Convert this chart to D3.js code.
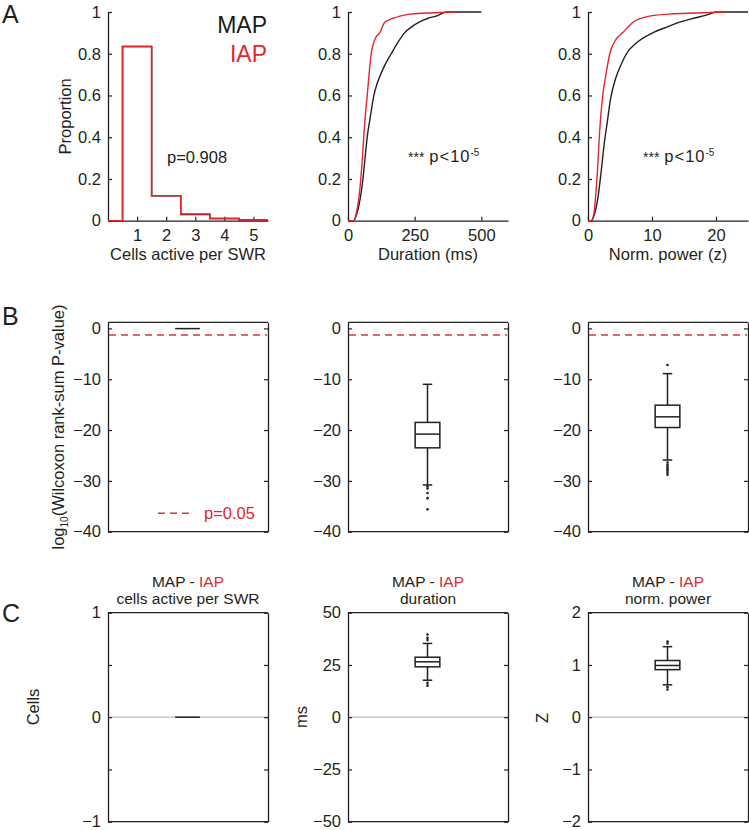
<!DOCTYPE html>
<html><head><meta charset="utf-8">
<script src="https://cdn.jsdelivr.net/npm/d3@7"></script>
<style>
body{margin:0;background:#fff}
text{font-family:"Liberation Sans",Arial,Helvetica,sans-serif;fill:#231f20}
</style>
</head><body><svg id="c" width="749" height="830"></svg>
<script>
// ---------------- data ----------------
const cellBins = [1, 2, 3, 4, 5];
const cellPropMAP = [0.835, 0.12, 0.03, 0.01, 0.003];
const cellPropIAP = [0.835, 0.12, 0.032, 0.011, 0.003];

const durMsMAP  = [0, 22, 32, 42, 50, 56, 64, 72, 84, 97, 110, 122, 140, 162, 185, 212, 240, 265, 300, 330, 369, 500];
const durCdfMAP = [0, 0, 0.03, 0.08, 0.14, 0.2, 0.3, 0.4, 0.5, 0.6, 0.66, 0.7, 0.75, 0.8, 0.85, 0.9, 0.93, 0.95, 0.97, 0.98, 1.0, 1.0];
const durMsIAP  = [0, 22, 30, 40, 48, 54, 60, 66, 72, 79, 87, 96, 105, 119, 137, 150, 169, 195, 231, 290, 350, 406];
const durCdfIAP = [0, 0, 0.03, 0.1, 0.2, 0.3, 0.42, 0.52, 0.6, 0.7, 0.8, 0.85, 0.88, 0.9, 0.95, 0.96, 0.97, 0.98, 0.99, 0.995, 0.998, 1.0];

const powZMAP   = [0, 0.5, 1.0, 1.5, 2.0, 2.5, 3.0, 3.5, 4.3, 5.2, 6.0, 7.5, 10.1, 12.5, 14.2, 16.5, 18.5, 20, 25];
const powCdfMAP = [0, 0, 0.03, 0.1, 0.22, 0.36, 0.47, 0.58, 0.68, 0.75, 0.8, 0.85, 0.9, 0.93, 0.95, 0.97, 0.985, 1, 1];
const powZIAP   = [0, 0.5, 0.9, 1.2, 1.5, 1.8, 2.3, 2.8, 3.4, 4.4, 5.4, 7.0, 9.6, 12.7, 17, 21.5];
const powCdfIAP = [0, 0, 0.03, 0.12, 0.25, 0.42, 0.6, 0.7, 0.8, 0.87, 0.9, 0.95, 0.98, 0.99, 0.995, 1.0];

const xLabelsA = ["Cells active per SWR", "Duration (ms)", "Norm. power (z)"];
const xTicksA1 = [1, 2, 3, 4, 5];
const xTicksA2 = [0, 250, 500];
const xTicksA3 = [0, 10, 20];
const yTicksA  = [0, 0.2, 0.4, 0.6, 0.8, 1];

// box stats: [lower whisker, q1, median, q3, upper whisker]
const logPCells = [-0.15, -0.04, -0.04, -0.04, 0.06];
const logPCellsOut = [];
const logPDur = [-30.8, -23.5, -20.8, -18.5, -11];
const logPDurOut = [-31.1, -31.5, -32.4, -33.4, -35.6];
const logPPow = [-25.9, -19.5, -17.4, -15.1, -8.9];
const logPPowOut = [-7.2, -26.4, -26.9, -27.3, -27.7, -28.0, -28.4, -28.8];
const yTicksB = [0, -10, -20, -30, -40];
const pThresh = 0.05;

const diffCells = [0, 0, 0, 0, 0];
const diffCellsOut = [];
const diffDur = [17.7, 24.1, 26.5, 28.7, 35.3];
const diffDurOut = [36.9, 38.0, 39.6, 16.4, 15.1];
const diffPow = [0.62, 0.91, 0.99, 1.085, 1.35];
const diffPowOut = [1.41, 1.45, 0.58, 0.53];
const titlesC = ["cells active per SWR", "duration", "norm. power"];
const yLabelsC = ["Cells", "ms", "Z"];
const yTicksC1 = [-1, -0.5, 0, 0.5, 1];
const yTicksC2 = [-50, -25, 0, 25, 50];
const yTicksC3 = [-2, -1, 0, 1, 2];

// ---------------- drawing ----------------
const RED = "#e3262c", INK = "#231f20", FS = 16.5;
const svg = d3.select("#c");
const colX = [108, 348, 588], W = 160;

function panelLetter(t, y) {
  svg.append("text").attr("x", 2).attr("y", y).attr("font-size", 25).text(t);
}
panelLetter("A", 23); panelLetter("B", 325); panelLetter("C", 621.5);

function styleAxis(g) {
  g.selectAll("path.domain").attr("stroke", INK).attr("stroke-width", 1.3);
  g.selectAll(".tick line").attr("stroke", INK).attr("stroke-width", 1.2);
  g.selectAll(".tick text").attr("fill", INK).attr("font-size", FS)
    .attr("font-family", '"Liberation Sans",Arial,sans-serif');
}

// ---- Row A ----
const yA = d3.scaleLinear([0, 1], [220.7, 12]);
const xA = [
  d3.scaleLinear([0, 5.5], [colX[0], colX[0] + W]),
  d3.scaleLinear([0, 600], [colX[1], colX[1] + W]),
  d3.scaleLinear([0, 25], [colX[2], colX[2] + W])
];
const xTicksA = [xTicksA1, xTicksA2, xTicksA3];

xA.forEach((x, i) => {
  const gy = svg.append("g").attr("transform", `translate(${colX[i]},0)`)
    .call(d3.axisLeft(yA).tickValues(yTicksA).tickFormat(d3.format("~g"))
      .tickSizeInner(-4).tickSizeOuter(0).tickPadding(7));
  styleAxis(gy);
  const gx = svg.append("g").attr("transform", `translate(0,${yA(0)})`)
    .call(d3.axisBottom(x).tickValues(xTicksA[i]).tickFormat(d3.format("d"))
      .tickSizeInner(-4).tickSizeOuter(0).tickPadding(6));
  styleAxis(gx);
  gx.selectAll(".tick text").attr("dy", "0.85em");
  svg.append("text").attr("x", colX[i] + W / 2).attr("y", 260)
    .attr("text-anchor", "middle").attr("font-size", FS).text(xLabelsA[i]);
});

svg.append("text").attr("transform", `translate(71,${yA(0.5)}) rotate(-90)`)
  .attr("text-anchor", "middle").attr("font-size", FS).text("Proportion");

// histogram stairs
function histPoints(bins, vals) {
  const pts = [[0, 0]];
  bins.forEach((b, k) => pts.push([b - 0.5, vals[k]]));
  pts.push([bins[bins.length - 1] + 0.5, vals[vals.length - 1]]);
  return pts;
}
const stair = d3.line().x(d => xA[0](d[0])).y(d => yA(d[1])).curve(d3.curveStepAfter);
svg.append("path").attr("d", stair(histPoints(cellBins, cellPropMAP)))
  .attr("fill", "none").attr("stroke", INK).attr("stroke-width", 1.5);
svg.append("path").attr("d", stair(histPoints(cellBins, cellPropIAP)))
  .attr("fill", "none").attr("stroke", RED).attr("stroke-width", 1.5);

svg.append("text").attr("x", 267).attr("y", 33).attr("text-anchor", "end")
  .attr("font-size", 23).style("fill", "#1a1a1a").text("MAP");
svg.append("text").attr("x", 267).attr("y", 61.5).attr("text-anchor", "end")
  .attr("font-size", 23).style("fill", RED).text("IAP");
svg.append("text").attr("x", 167).attr("y", 163).attr("font-size", FS).text("p=0.908");

// CDF lines
function cdfLine(x, xs, ys, color) {
  const line = d3.line().x(d => x(d[0])).y(d => yA(d[1])).curve(d3.curveMonotoneX);
  svg.append("path").attr("d", line(xs.map((v, k) => [v, ys[k]])))
    .attr("fill", "none").attr("stroke", color).attr("stroke-width", 1.4)
    .attr("stroke-linejoin", "round");
}
cdfLine(xA[1], durMsMAP, durCdfMAP, INK);
cdfLine(xA[1], durMsIAP, durCdfIAP, RED);
cdfLine(xA[2], powZMAP, powCdfMAP, INK);
cdfLine(xA[2], powZIAP, powCdfIAP, RED);

function sigText(x, y) {
  const t = svg.append("text").attr("x", x).attr("y", y).attr("font-size", 16.5);
  t.append("tspan").attr("font-size", 14).text("***");
  t.append("tspan").attr("dx", 5).attr("letter-spacing", 1).text("p<10");
  t.append("tspan").attr("font-size", 10).attr("dy", -6).text("-5");
}
sigText(408, 162);
sigText(643, 162);

// ---- box-plot helper ----
function drawBox(y, cx, stats, outs, bw, cw) {
  const [lo, q1, md, q3, hi] = stats;
  const g = svg.append("g").attr("stroke", INK).attr("stroke-width", 1.5).attr("fill", "none");
  g.append("line").attr("x1", cx).attr("x2", cx).attr("y1", y(q3)).attr("y2", y(hi));
  g.append("line").attr("x1", cx).attr("x2", cx).attr("y1", y(q1)).attr("y2", y(lo));
  if (hi - lo > 1e-9 && Math.abs(y(hi) - y(lo)) > 4) {
    g.append("line").attr("x1", cx - cw / 2).attr("x2", cx + cw / 2).attr("y1", y(hi)).attr("y2", y(hi));
    g.append("line").attr("x1", cx - cw / 2).attr("x2", cx + cw / 2).attr("y1", y(lo)).attr("y2", y(lo));
  }
  if (y(q1) - y(q3) > 0.5) {
    g.append("rect").attr("x", cx - bw / 2).attr("width", bw)
      .attr("y", y(q3)).attr("height", y(q1) - y(q3));
  }
  g.append("line").attr("x1", cx - bw / 2).attr("x2", cx + bw / 2).attr("y1", y(md)).attr("y2", y(md));
  svg.append("g").selectAll("circle").data(outs).join("circle")
    .attr("cx", cx).attr("cy", d => y(d)).attr("r", 1.3).attr("fill", INK);
}

function boxAxes(y, x0, ticks, fmt) {
  const g1 = svg.append("g").attr("transform", `translate(${x0},0)`)
    .call(d3.axisLeft(y).tickValues(ticks).tickFormat(fmt)
      .tickSizeInner(-4).tickSizeOuter(0).tickPadding(7));
  styleAxis(g1);
  const g2 = svg.append("g").attr("transform", `translate(${x0 + W},0)`)
    .call(d3.axisRight(y).tickValues(ticks).tickFormat("")
      .tickSizeInner(-4).tickSizeOuter(0));
  styleAxis(g2);
  const [a, b] = y.range();
  svg.append("line").attr("x1", x0).attr("x2", x0 + W).attr("y1", b).attr("y2", b)
    .attr("stroke", INK).attr("stroke-width", 1.3);
  svg.append("line").attr("x1", x0).attr("x2", x0 + W).attr("y1", a).attr("y2", a)
    .attr("stroke", INK).attr("stroke-width", 1.3);
}

// ---- Row B ----
const yB = d3.scaleLinear([-40, 1.2], [531.7, 322.3]);
const fmtMinus = d3.format("d");
const boxB = [[logPCells, logPCellsOut], [logPDur, logPDurOut], [logPPow, logPPowOut]];
colX.forEach((x0, i) => {
  boxAxes(yB, x0, yTicksB, fmtMinus);
  svg.append("line").attr("x1", x0 + 1).attr("x2", x0 + W - 1)
    .attr("y1", yB(Math.log10(pThresh))).attr("y2", yB(Math.log10(pThresh)))
    .attr("stroke", "#d8343a").attr("stroke-width", 1.4).attr("stroke-dasharray", "7,5");
  drawBox(yB, x0 + W / 2 - 0.5, boxB[i][0], boxB[i][1], 24.7, 9.5);
});
svg.append("line").attr("x1", 158).attr("x2", 194).attr("y1", 513.3).attr("y2", 513.3)
  .attr("stroke", "#d8343a").attr("stroke-width", 1.4).attr("stroke-dasharray", "7,5");
svg.append("text").attr("x", 204).attr("y", 519).attr("font-size", FS)
  .style("fill", RED).text("p=0.05");
{
  const t = svg.append("text").attr("transform", `translate(64,${(322.3 + 531.7) / 2}) rotate(-90)`)
    .attr("text-anchor", "middle").attr("font-size", FS);
  t.append("tspan").text("log");
  t.append("tspan").attr("font-size", 10).attr("dy", 4).text("10");
  t.append("tspan").attr("dy", -4).text("(Wilcoxon rank-sum P-value)");
}

// ---- Row C ----
const yC = [
  d3.scaleLinear([-1, 1], [821.7, 612.7]),
  d3.scaleLinear([-50, 50], [821.7, 612.7]),
  d3.scaleLinear([-2, 2], [821.7, 612.7])
];
const ticksC = [yTicksC1, yTicksC2, yTicksC3];
const fmtC = [d => Number.isInteger(d) ? d3.format("d")(d) : "", d3.format("d"), d3.format("d")];
const boxC = [[diffCells, diffCellsOut], [diffDur, diffDurOut], [diffPow, diffPowOut]];
const yLabelPos = [[33, 707], [301, 717], [542, 718]];
colX.forEach((x0, i) => {
  svg.append("line").attr("x1", x0).attr("x2", x0 + W)
    .attr("y1", yC[i](0)).attr("y2", yC[i](0)).attr("stroke", "#bdbdbd").attr("stroke-width", 1.3);
  boxAxes(yC[i], x0, ticksC[i], fmtC[i]);
  drawBox(yC[i], x0 + W / 2 - 0.5, boxC[i][0], boxC[i][1], 24.7, 9.5);
  const t = svg.append("text").attr("x", x0 + W / 2).attr("y", 586.5)
    .attr("text-anchor", "middle").attr("font-size", 15.5);
  t.append("tspan").text("MAP - ");
  t.append("tspan").style("fill", RED).text("IAP");
  svg.append("text").attr("x", x0 + W / 2).attr("y", 604)
    .attr("text-anchor", "middle").attr("font-size", 15.5).text(titlesC[i]);
  svg.append("text").attr("transform", `translate(${yLabelPos[i][0] + 6},${yLabelPos[i][1]}) rotate(-90)`)
    .attr("text-anchor", "middle").attr("font-size", FS).text(yLabelsC[i]);
});
</script>
</body></html>
